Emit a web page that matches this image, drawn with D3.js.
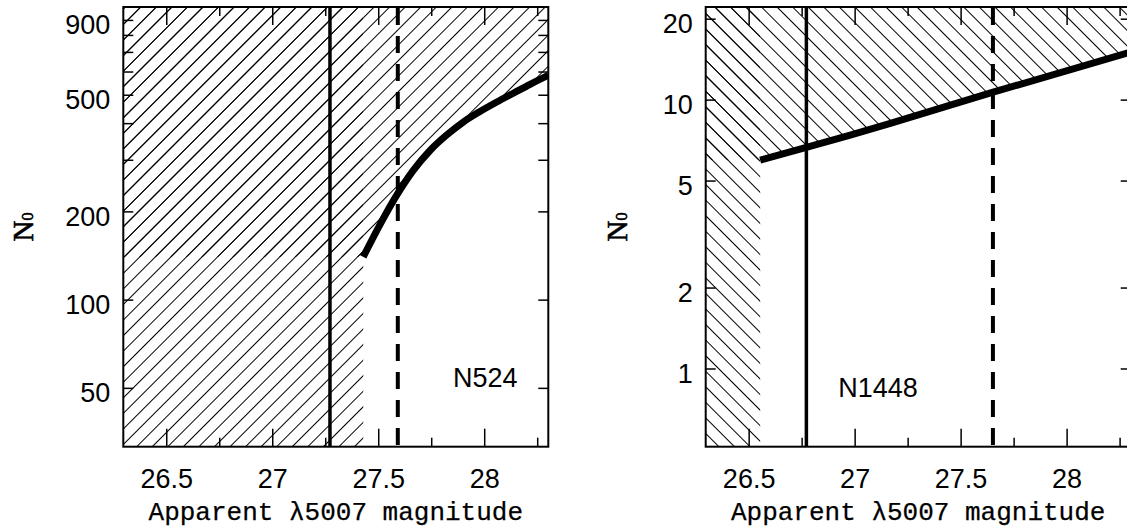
<!DOCTYPE html>
<html>
<head>
<meta charset="utf-8">
<script src="https://cdn.jsdelivr.net/npm/d3@7"></script>
<style>
  body { margin: 0; background: #fff; }
  svg { display: block; }
  .tick-label { font-family: "Liberation Sans", Arial, sans-serif; font-size: 27px; fill: #000; }
  .axis-title { font-family: "Liberation Mono", "Courier New", monospace; font-size: 26px; fill: #000; stroke: #000; stroke-width: 0.25px; }
  .ylab { font-family: "Liberation Serif", serif; fill: #000; stroke: #000; stroke-width: 0.6px; }
</style>
</head>
<body>
<svg id="chart" width="1127" height="529"></svg>
<script>
// x axis (apparent magnitude), shared by both panels
var magDomain = [26.295, 28.3];
var xTicksMajor = [26.5, 27, 27.5, 28];
var xTicksMinor = [26.75, 27.25, 27.75, 28.25];

// left panel: N524
var leftYDomain = [31.62, 1000];
var leftYTicks = [50, 100, 200, 300, 400, 500, 600, 700, 800, 900];
var leftYLabels = [50, 100, 200, 500, 900];
var leftCurveMag = [27.427, 27.506, 27.585, 27.663, 27.742, 27.821, 27.899, 27.978, 28.057, 28.135, 28.214, 28.3];
var leftCurveN = [140.5, 181, 228, 277, 324, 366, 405, 440, 474, 508, 545, 585];
var leftSolidMag = 27.27;
var leftDashMag = 27.59;
var leftName = ["N524", 27.85, 50.5];

// right panel: N1448
var rightYDomain = [0.514, 22.2];
var rightYTicks = [1, 2, 5, 10, 20];
var rightYLabels = [1, 2, 5, 10, 20];
var rightCurveMag = [26.552, 26.77, 26.977, 27.166, 27.651, 28.3];
var rightCurveN = [5.98, 6.67, 7.41, 8.19, 10.7, 15.1];
var rightSolidMag = 26.77;
var rightDashMag = 27.65;
var rightName = ["N1448", 26.92, 0.79];

var svg = d3.select('#chart');
var defs = svg.append('defs');

function makeHatch(id, angle) {
	var p = defs.append('pattern')
		.attr('id', id)
		.attr('patternUnits', 'userSpaceOnUse')
		.attr('width', 11).attr('height', 11)
		.attr('patternTransform', 'rotate(' + angle + ')');
	p.append('line')
		.attr('x1', -1).attr('x2', 12)
		.attr('y1', 5.5).attr('y2', 5.5)
		.attr('stroke', '#000').attr('stroke-width', 1);
}
makeHatch('hatchL', -45);
makeHatch('hatchR', 45);

function panel(opt) {
	var x = d3.scaleLinear().domain(magDomain).range([opt.left, opt.left + 425]);
	var y = d3.scaleLog().domain(opt.yDomain).range([446.7, 7]);
	var top = y.range()[1], bottom = y.range()[0];
	var xl = x.range()[0], xr = x.range()[1];

	defs.append('clipPath').attr('id', opt.id + 'clip')
		.append('rect').attr('x', xl).attr('y', top).attr('width', xr - xl).attr('height', bottom - top);

	var g = svg.append('g');
	var plot = g.append('g').attr('clip-path', 'url(#' + opt.id + 'clip)');

	var pts = opt.mag.map(function(m, i) { return [m, opt.n[i]]; });
	var m0 = pts[0][0], n0 = pts[0][1];
	var hatch = 'url(#' + opt.hatch + ')';

	// strip left of where the completeness curve starts
	plot.append('rect')
		.attr('x', xl).attr('y', top)
		.attr('width', x(m0) - xl).attr('height', bottom - top)
		.attr('fill', hatch);
	// region above the curve (extended flat to the left)
	plot.append('rect')
		.attr('x', xl).attr('y', top)
		.attr('width', x(m0) - xl).attr('height', y(n0) - top)
		.attr('fill', hatch);
	var area = d3.area()
		.x(function(d) { return x(d[0]); })
		.y0(top)
		.y1(function(d) { return y(d[1]); })
		.curve(opt.curve);
	plot.append('path').datum(pts).attr('d', area).attr('fill', hatch);

	// solid and dashed vertical lines
	plot.append('line')
		.attr('x1', x(opt.solid)).attr('x2', x(opt.solid))
		.attr('y1', top).attr('y2', bottom)
		.attr('stroke', '#000').attr('stroke-width', 3.5);
	plot.append('line')
		.attr('x1', x(opt.dash)).attr('x2', x(opt.dash))
		.attr('y1', top + 1).attr('y2', bottom)
		.attr('stroke', '#000').attr('stroke-width', 4)
		.attr('stroke-dasharray', '17,11');

	// curve
	var line = d3.line()
		.x(function(d) { return x(d[0]); })
		.y(function(d) { return y(d[1]); })
		.curve(opt.curve);
	plot.append('path').datum(pts).attr('d', line)
		.attr('fill', 'none').attr('stroke', '#000').attr('stroke-width', 7);

	// ticks, on all four sides
	var tk = g.append('g').attr('stroke', '#000').attr('stroke-width', 1.5);
	xTicksMajor.forEach(function(t) {
		tk.append('line').attr('x1', x(t)).attr('x2', x(t)).attr('y1', bottom).attr('y2', bottom - 18);
		tk.append('line').attr('x1', x(t)).attr('x2', x(t)).attr('y1', top).attr('y2', top + 18);
	});
	xTicksMinor.forEach(function(t) {
		tk.append('line').attr('x1', x(t)).attr('x2', x(t)).attr('y1', bottom).attr('y2', bottom - 9);
		tk.append('line').attr('x1', x(t)).attr('x2', x(t)).attr('y1', top).attr('y2', top + 9);
	});
	opt.yTicks.forEach(function(t) {
		tk.append('line').attr('x1', xl).attr('x2', xl + 10).attr('y1', y(t)).attr('y2', y(t));
		tk.append('line').attr('x1', xr).attr('x2', xr - 10).attr('y1', y(t)).attr('y2', y(t));
	});

	// frame
	g.append('rect')
		.attr('x', xl).attr('y', top)
		.attr('width', xr - xl).attr('height', bottom - top)
		.attr('fill', 'none').attr('stroke', '#000').attr('stroke-width', 2);

	// tick labels
	xTicksMajor.forEach(function(t) {
		g.append('text').attr('class', 'tick-label')
			.attr('x', x(t)).attr('y', 488)
			.attr('text-anchor', 'middle').text(t);
	});
	opt.yLabels.forEach(function(t) {
		g.append('text').attr('class', 'tick-label')
			.attr('x', xl - 13).attr('y', y(t) + 14)
			.attr('text-anchor', 'end').text(t);
	});

	// axis titles
	g.append('text').attr('class', 'axis-title')
		.attr('x', (xl + xr) / 2).attr('y', 520)
		.attr('text-anchor', 'middle').text('Apparent \u03bb5007 magnitude');
	var yl = g.append('text').attr('class', 'ylab')
		.attr('transform', 'translate(' + opt.ylabX + ',227) rotate(-90)')
		.attr('text-anchor', 'middle');
	yl.append('tspan').attr('font-size', 29).text('N');
	yl.append('tspan').attr('font-size', 16).text('0');

	// galaxy name
	g.append('text').attr('class', 'tick-label')
		.attr('x', x(opt.name[1])).attr('y', y(opt.name[2]))
		.text(opt.name[0]);
}

panel({
	id: 'left', left: 123.3, yDomain: leftYDomain,
	yTicks: leftYTicks, yLabels: leftYLabels,
	mag: leftCurveMag, n: leftCurveN, curve: d3.curveMonotoneX,
	solid: leftSolidMag, dash: leftDashMag, hatch: 'hatchL',
	name: leftName, ylabX: 33
});
panel({
	id: 'right', left: 705.7, yDomain: rightYDomain,
	yTicks: rightYTicks, yLabels: rightYLabels,
	mag: rightCurveMag, n: rightCurveN, curve: d3.curveLinear,
	solid: rightSolidMag, dash: rightDashMag, hatch: 'hatchR',
	name: rightName, ylabX: 627
});
</script>
</body>
</html>
